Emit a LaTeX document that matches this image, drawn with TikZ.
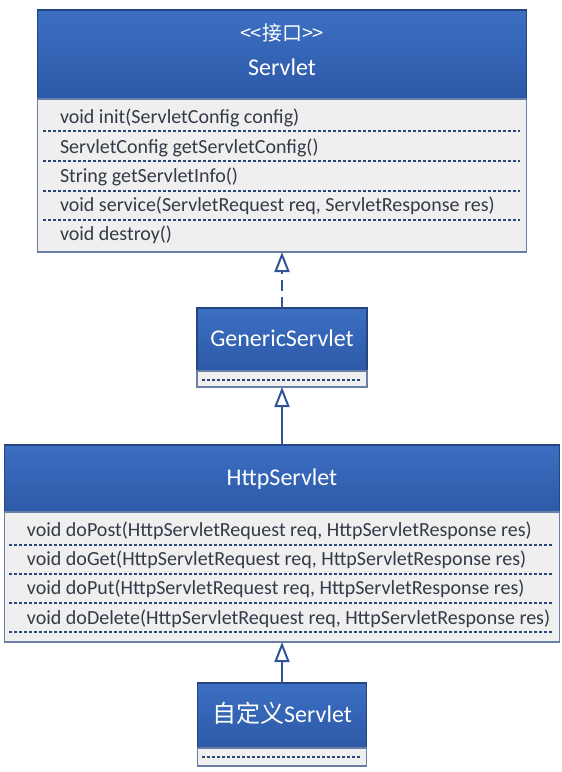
\documentclass[tikz,border=0pt]{standalone}
\usepackage{fontspec}
\setmainfont{Carlito}
\newfontfamily\cjk{Noto Sans CJK SC}
\usepackage{tikz}
\usetikzlibrary{arrows.meta,positioning}

\begin{document}
\begin{tikzpicture}[x=1pt, y=-1pt,
    %Option for nice arrows
    >={Triangle[open, width=15pt, length=20pt]}, %
    inner sep=0pt, outer sep=0pt,%
    header/.style={draw=hdrline, line width=1.3pt, top color=hdrtop, bottom color=hdrbot},
    body/.style={draw=bodyline, line width=1.1pt, fill=bodyfill},
    title/.style={text=white, font=\fontsize{24}{28}\selectfont, text height=14pt, text depth=0pt},
    stereo/.style={text=white, font=\cjk\fontsize{20}{24}\selectfont, text height=14pt, text depth=0pt},
    op/.style={anchor=west, text=optext, font=\fontsize{20}{24}\selectfont, text height=12pt, text depth=0pt},
    sep/.style={draw=sepline, line width=1.5pt, dash pattern=on 3pt off 2pt},
    inherit/.style={draw=arrowline, line width=2pt, ->},
    realize/.style={inherit, dash pattern=on 11pt off 6pt},
]
    % Colors
    \definecolor{hdrtop}{HTML}{3C6FC2}
    \definecolor{hdrbot}{HTML}{2D59A7}
    \definecolor{hdrline}{HTML}{24457F}
    \definecolor{bodyline}{HTML}{6A7FA6}
    \definecolor{bodyfill}{HTML}{EFEFEF}
    \definecolor{sepline}{HTML}{294679}
    \definecolor{optext}{HTML}{333A48}
    \definecolor{arrowline}{HTML}{2F5597}

    % Frame
    \fill[white] (0,0) rectangle (562,772);
    \useasboundingbox (0,0) rectangle (562,772);

    % Servlet interface
    \node[header, minimum width=489pt, minimum height=89pt] (servlet) at (282,54.5) {};
    \node[stereo] (servlet-stereo) at (282,33) {<\kern-1pt<接口>\kern-1pt>};
    \node[title] (servlet-name) at (282,68) {Servlet};
    \node[body, minimum width=489pt, minimum height=153pt, below=0pt of servlet] (servlet-ops) {};
    \node[op] (init) at (60,117) {void init(ServletConfig config)};
    \node[op] (getconfig) at (60,147) {ServletConfig getServletConfig()};
    \node[op] (getinfo) at (60,176) {String getServletInfo()};
    \node[op] (service) at (60,205) {void service(ServletRequest req, ServletResponse res)};
    \node[op] (destroy) at (60,234) {void destroy()};
    \draw[sep] (43,131) -- (520,131);
    \draw[sep] (43,161) -- (520,161);
    \draw[sep] (43,191) -- (520,191);
    \draw[sep] (43,220) -- (520,220);

    % GenericServlet
    \node[header, title, minimum width=170pt, minimum height=63pt] (generic) at (282,339.5) {GenericServlet};
    \node[body, minimum width=170pt, minimum height=16pt, below=0pt of generic] (generic-ops) {};
    \draw[sep] (202,380) -- (362,380);

    % HttpServlet
    \node[header, title, minimum width=555pt, minimum height=67pt] (http) at (282,478.5) {HttpServlet};
    \node[body, minimum width=555pt, minimum height=130pt, below=0pt of http] (http-ops) {};
    \node[op] (dopost) at (27,530) {void doPost(HttpServletRequest req, HttpServletResponse res)};
    \node[op] (doget) at (27,559) {void doGet(HttpServletRequest req, HttpServletResponse res)};
    \node[op] (doput) at (27,588) {void doPut(HttpServletRequest req, HttpServletResponse res)};
    \node[op] (dodelete) at (27,618) {void doDelete(HttpServletRequest req, HttpServletResponse res)};
    \draw[sep] (9,545) -- (553,545);
    \draw[sep] (9,574) -- (553,574);
    \draw[sep] (9,603) -- (553,603);
    \draw[sep] (9,632) -- (553,632);

    % Custom servlet
    \node[header, title, minimum width=169pt, minimum height=65pt] (custom) at (282,715.5) {{\cjk 自定义}Servlet};
    \node[body, minimum width=169pt, minimum height=18pt, below=0pt of custom] (custom-ops) {};
    \draw[sep] (202,757) -- (361,757);

    % Inheritance
    \draw[realize] (generic.north) -- (servlet-ops.south);
    \draw[inherit] (http.north) -- (generic-ops.south);
    \draw[inherit] (custom.north) -- (http-ops.south);
\end{tikzpicture}
\end{document}
